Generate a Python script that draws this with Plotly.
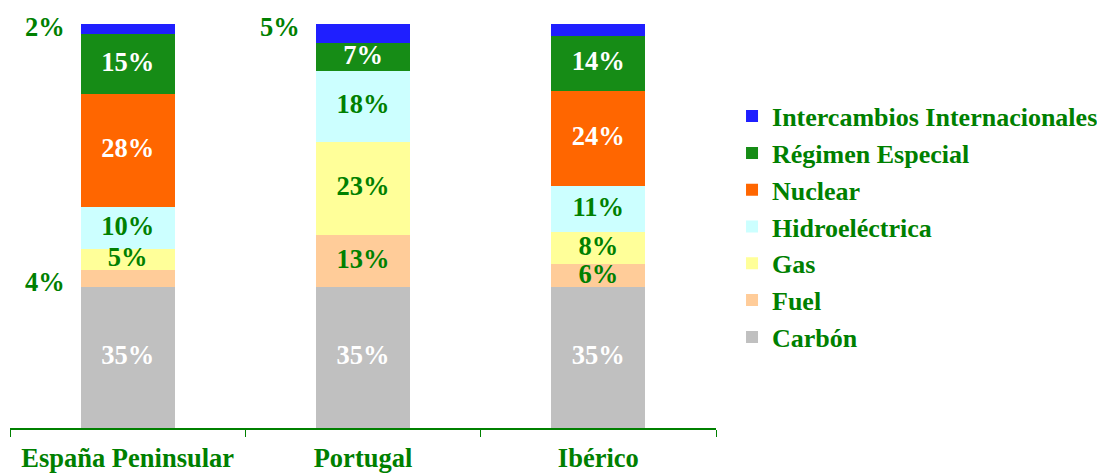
import plotly.graph_objects as go

# ---- data ----
categories = ["España Peninsular", "Portugal", "Ibérico"]
series_names = ["Carbón", "Fuel", "Gas", "Hidroeléctrica", "Nuclear",
                "Régimen Especial", "Intercambios Internacionales"]
carbon = [34.8, 34.8, 34.8]
fuel = [4.4, 13.0, 5.7]
gas = [5.0, 23.0, 7.9]
hidro = [10.4, 17.6, 11.4]
nuclear = [28.0, 0.0, 23.6]
regimen = [14.9, 6.9, 13.7]
intercambios = [2.4, 4.6, 2.9]

series_values = [carbon, fuel, gas, hidro, nuclear, regimen, intercambios]

# ---- style ----
GREEN = "#008000"
FONT = "Liberation Serif"
FS = 26.5
bar_colors = ["#C0C0C0", "#FFCC99", "#FFFF99", "#CCFFFF", "#FF6600",
              "#168c16", "#1f1fff"]
label_colors = ["white", GREEN, GREEN, GREEN, "white", "white", GREEN]
# labels drawn outside, to the left of the bar: (series index, category index)
outside = {(6, 0), (6, 1), (6, 2), (1, 0)}

fig = go.Figure()
for name, vals, col in zip(series_names, series_values, bar_colors):
    fig.add_trace(go.Bar(name=name, x=categories, y=vals,
                         marker=dict(color=col, line=dict(width=0)),
                         hoverinfo="skip"))

# labels
base = [0.0] * len(categories)
for s, (vals, tcol) in enumerate(zip(series_values, label_colors)):
    xs, ys, ts = [], [], []
    for i, v in enumerate(vals):
        if v > 0:
            mid = base[i] + v / 2
            top = base[i] + v
            label = f"{round(v):d}%"
            if (s, i) in outside:
                y = top if s == 6 else mid
                fig.add_annotation(x=categories[i], y=y, xref="x", yref="y",
                                   text=label, showarrow=False, xshift=-83,
                                   yshift=-3, yanchor="middle",
                                   font=dict(family=FONT, size=FS, color=GREEN,
                                             weight="bold"))
            else:
                xs.append(categories[i]); ys.append(mid); ts.append(label)
        base[i] += v
    if xs:
        fig.add_trace(go.Scatter(x=xs, y=ys, text=ts, mode="text",
                                 textposition="middle center",
                                 textfont=dict(family=FONT, size=FS, color=tcol,
                                               weight="bold"),
                                 showlegend=False, hoverinfo="skip"))

fig.update_layout(
    width=1097, height=468,
    margin=dict(l=2, r=389, t=16, b=48, autoexpand=False),
    barmode="stack", bargap=0.6,
    plot_bgcolor="white", paper_bgcolor="white",
    font=dict(family=FONT, size=FS, color=GREEN, weight="bold"),
    showlegend=True,
    legend=dict(xref="container", yref="container", x=0.660, y=0.819,
                xanchor="left", yanchor="top", traceorder="reversed",
                maxheight=1.0,
                font=dict(family=FONT, size=26, color=GREEN, weight="bold"),
                bgcolor="rgba(0,0,0,0)"),
    xaxis=dict(type="category", range=[-0.5, 2.5], showline=True,
               linecolor=GREEN, linewidth=1.5, ticks="outside",
               tickson="boundaries", ticklen=7, tickcolor=GREEN,
               automargin=False, ticklabelstandoff=5,
               tickfont=dict(family=FONT, size=FS, color=GREEN, weight="bold"),
               showgrid=False, zeroline=False),
    yaxis=dict(range=[0, 100], visible=False, showgrid=False, zeroline=False,
               automargin=False),
)

fig.write_html("out.html")
